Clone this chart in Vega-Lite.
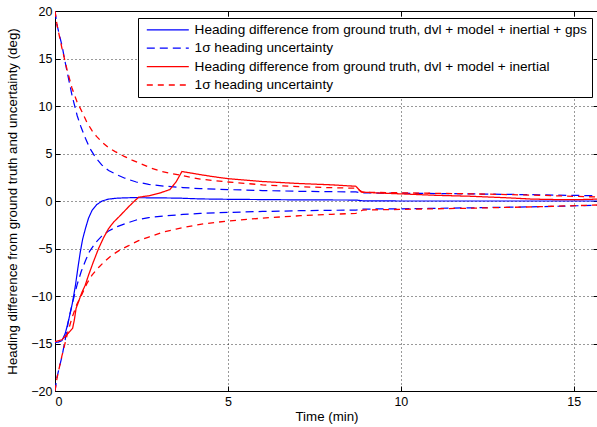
{
  "$schema": "https://vega.github.io/schema/vega-lite/v6.json",
  "width": 543,
  "height": 380,
  "autosize": {"type": "none"},
  "padding": {"left": 55, "top": 11, "right": 0, "bottom": 36},
  "background": "white",
  "config": {
    "font": "Liberation Sans",
    "view": {"stroke": null},
    "axis": {
      "labelFont": "Liberation Sans",
      "labelFontSize": 12.5,
      "labelColor": "black",
      "titleFont": "Liberation Sans",
      "titleFontSize": 13.3,
      "titleFontWeight": "normal",
      "titleColor": "black",
      "domainColor": "black",
      "domainWidth": 1,
      "tickColor": "black",
      "tickSize": -5,
      "tickWidth": 1,
      "labelPadding": 9,
      "gridColor": "black",
      "gridDash": [1, 3],
      "gridOpacity": 0.8,
      "gridWidth": 1
    },
    "legend": {
      "orient": "none",
      "legendX": 83,
      "legendY": 7,
      "strokeColor": "black",
      "fillColor": "white",
      "padding": 5,
      "symbolType": "M-1,0H13",
      "symbolSize": 36,
      "symbolStrokeWidth": 1.1,
      "labelFont": "Liberation Sans",
      "labelFontSize": 13.6,
      "labelColor": "black",
      "labelOffset": 38,
      "rowPadding": 3.4,
      "labelLimit": 600
    }
  },
  "datasets": {
    "curves": [
      {"t":0,"v":-14.9,"s":"A","p":"m"},{"t":0.1,"v":-14.85,"s":"A","p":"m"},{"t":0.2,"v":-14.7,"s":"A","p":"m"},{"t":0.3,"v":-13.9,"s":"A","p":"m"},{"t":0.39,"v":-12.6,"s":"A","p":"m"},{"t":0.5,"v":-10.8,"s":"A","p":"m"},{"t":0.59,"v":-8.9,"s":"A","p":"m"},{"t":0.66,"v":-7.1,"s":"A","p":"m"},{"t":0.73,"v":-5.4,"s":"A","p":"m"},{"t":0.8,"v":-4.0,"s":"A","p":"m"},{"t":0.88,"v":-2.9,"s":"A","p":"m"},{"t":0.97,"v":-1.8,"s":"A","p":"m"},{"t":1.07,"v":-1.0,"s":"A","p":"m"},{"t":1.2,"v":-0.4,"s":"A","p":"m"},{"t":1.36,"v":0.0,"s":"A","p":"m"},{"t":1.55,"v":0.2,"s":"A","p":"m"},{"t":1.8,"v":0.3,"s":"A","p":"m"},{"t":2.2,"v":0.35,"s":"A","p":"m"},{"t":3.0,"v":0.33,"s":"A","p":"m"},{"t":3.6,"v":0.3,"s":"A","p":"m"},{"t":4.2,"v":0.22,"s":"A","p":"m"},{"t":5,"v":0.18,"s":"A","p":"m"},{"t":6,"v":0.15,"s":"A","p":"m"},{"t":7,"v":0.12,"s":"A","p":"m"},{"t":8.7,"v":0.1,"s":"A","p":"m"},{"t":8.9,"v":0.02,"s":"A","p":"m"},{"t":10,"v":0.0,"s":"A","p":"m"},{"t":12,"v":0.0,"s":"A","p":"m"},{"t":14,"v":0.0,"s":"A","p":"m"},{"t":15.7,"v":0.0,"s":"A","p":"m"},

      {"t":0,"v":20,"s":"B","p":"u"},{"t":0.06,"v":18.5,"s":"B","p":"u"},{"t":0.2,"v":16.4,"s":"B","p":"u"},{"t":0.3,"v":14.5,"s":"B","p":"u"},{"t":0.39,"v":12.9,"s":"B","p":"u"},{"t":0.5,"v":11.0,"s":"B","p":"u"},{"t":0.64,"v":9.0,"s":"B","p":"u"},{"t":0.76,"v":7.7,"s":"B","p":"u"},{"t":0.88,"v":6.6,"s":"B","p":"u"},{"t":1.0,"v":5.6,"s":"B","p":"u"},{"t":1.17,"v":4.6,"s":"B","p":"u"},{"t":1.35,"v":3.8,"s":"B","p":"u"},{"t":1.55,"v":3.2,"s":"B","p":"u"},{"t":1.8,"v":2.75,"s":"B","p":"u"},{"t":2.02,"v":2.4,"s":"B","p":"u"},{"t":2.35,"v":2.0,"s":"B","p":"u"},{"t":2.71,"v":1.75,"s":"B","p":"u"},{"t":3.2,"v":1.55,"s":"B","p":"u"},{"t":3.7,"v":1.42,"s":"B","p":"u"},{"t":4.2,"v":1.3,"s":"B","p":"u"},{"t":5,"v":1.2,"s":"B","p":"u"},{"t":6,"v":1.1,"s":"B","p":"u"},{"t":7.1,"v":1.02,"s":"B","p":"u"},{"t":8.0,"v":0.98,"s":"B","p":"u"},{"t":8.7,"v":0.95,"s":"B","p":"u"},{"t":8.9,"v":0.85,"s":"B","p":"u"},{"t":10,"v":0.82,"s":"B","p":"u"},{"t":12,"v":0.75,"s":"B","p":"u"},{"t":14,"v":0.65,"s":"B","p":"u"},{"t":15.7,"v":0.55,"s":"B","p":"u"},

      {"t":0,"v":-20,"s":"B","p":"l"},{"t":0.06,"v":-18.5,"s":"B","p":"l"},{"t":0.2,"v":-16.4,"s":"B","p":"l"},{"t":0.3,"v":-14.5,"s":"B","p":"l"},{"t":0.39,"v":-12.6,"s":"B","p":"l"},{"t":0.5,"v":-10.8,"s":"B","p":"l"},{"t":0.64,"v":-8.8,"s":"B","p":"l"},{"t":0.76,"v":-7.4,"s":"B","p":"l"},{"t":0.88,"v":-6.3,"s":"B","p":"l"},{"t":1.0,"v":-5.3,"s":"B","p":"l"},{"t":1.17,"v":-4.4,"s":"B","p":"l"},{"t":1.35,"v":-3.7,"s":"B","p":"l"},{"t":1.55,"v":-3.15,"s":"B","p":"l"},{"t":1.8,"v":-2.7,"s":"B","p":"l"},{"t":2.02,"v":-2.4,"s":"B","p":"l"},{"t":2.35,"v":-2.0,"s":"B","p":"l"},{"t":2.71,"v":-1.75,"s":"B","p":"l"},{"t":3.2,"v":-1.55,"s":"B","p":"l"},{"t":3.7,"v":-1.42,"s":"B","p":"l"},{"t":4.2,"v":-1.3,"s":"B","p":"l"},{"t":5,"v":-1.2,"s":"B","p":"l"},{"t":6,"v":-1.1,"s":"B","p":"l"},{"t":7.1,"v":-1.02,"s":"B","p":"l"},{"t":8.0,"v":-0.98,"s":"B","p":"l"},{"t":8.7,"v":-0.95,"s":"B","p":"l"},{"t":8.9,"v":-0.85,"s":"B","p":"l"},{"t":10,"v":-0.82,"s":"B","p":"l"},{"t":12,"v":-0.72,"s":"B","p":"l"},{"t":14,"v":-0.6,"s":"B","p":"l"},{"t":15.7,"v":-0.45,"s":"B","p":"l"},

      {"t":0,"v":-14.8,"s":"C","p":"m"},{"t":0.2,"v":-14.6,"s":"C","p":"m"},{"t":0.39,"v":-13.9,"s":"C","p":"m"},{"t":0.51,"v":-13.4,"s":"C","p":"m"},{"t":0.56,"v":-12.5,"s":"C","p":"m"},{"t":0.61,"v":-11.3,"s":"C","p":"m"},{"t":0.7,"v":-10.4,"s":"C","p":"m"},{"t":0.78,"v":-9.6,"s":"C","p":"m"},{"t":0.87,"v":-8.9,"s":"C","p":"m"},{"t":0.97,"v":-7.8,"s":"C","p":"m"},{"t":1.1,"v":-6.5,"s":"C","p":"m"},{"t":1.26,"v":-5.0,"s":"C","p":"m"},{"t":1.4,"v":-3.9,"s":"C","p":"m"},{"t":1.55,"v":-2.9,"s":"C","p":"m"},{"t":1.7,"v":-2.2,"s":"C","p":"m"},{"t":1.84,"v":-1.7,"s":"C","p":"m"},{"t":2.0,"v":-1.1,"s":"C","p":"m"},{"t":2.13,"v":-0.6,"s":"C","p":"m"},{"t":2.3,"v":0.0,"s":"C","p":"m"},{"t":2.42,"v":0.4,"s":"C","p":"m"},{"t":2.71,"v":0.55,"s":"C","p":"m"},{"t":3.0,"v":0.8,"s":"C","p":"m"},{"t":3.32,"v":1.2,"s":"C","p":"m"},{"t":3.5,"v":2.0,"s":"C","p":"m"},{"t":3.67,"v":3.1,"s":"C","p":"m"},{"t":4.0,"v":2.9,"s":"C","p":"m"},{"t":4.5,"v":2.6,"s":"C","p":"m"},{"t":5,"v":2.35,"s":"C","p":"m"},{"t":6,"v":2.05,"s":"C","p":"m"},{"t":7,"v":1.85,"s":"C","p":"m"},{"t":8,"v":1.7,"s":"C","p":"m"},{"t":8.7,"v":1.55,"s":"C","p":"m"},{"t":8.85,"v":0.95,"s":"C","p":"m"},{"t":9.3,"v":0.85,"s":"C","p":"m"},{"t":10,"v":0.75,"s":"C","p":"m"},{"t":11,"v":0.6,"s":"C","p":"m"},{"t":12,"v":0.5,"s":"C","p":"m"},{"t":13,"v":0.35,"s":"C","p":"m"},{"t":13.8,"v":0.2,"s":"C","p":"m"},{"t":14.5,"v":0.15,"s":"C","p":"m"},{"t":15.2,"v":0.15,"s":"C","p":"m"},{"t":15.7,"v":0.2,"s":"C","p":"m"},

      {"t":0,"v":20,"s":"D","p":"u"},{"t":0.06,"v":18.5,"s":"D","p":"u"},{"t":0.2,"v":16.1,"s":"D","p":"u"},{"t":0.35,"v":13.8,"s":"D","p":"u"},{"t":0.49,"v":11.9,"s":"D","p":"u"},{"t":0.63,"v":10.5,"s":"D","p":"u"},{"t":0.78,"v":9.4,"s":"D","p":"u"},{"t":0.92,"v":8.3,"s":"D","p":"u"},{"t":1.07,"v":7.4,"s":"D","p":"u"},{"t":1.2,"v":6.8,"s":"D","p":"u"},{"t":1.36,"v":6.2,"s":"D","p":"u"},{"t":1.55,"v":5.6,"s":"D","p":"u"},{"t":1.74,"v":5.2,"s":"D","p":"u"},{"t":2.0,"v":4.7,"s":"D","p":"u"},{"t":2.23,"v":4.3,"s":"D","p":"u"},{"t":2.5,"v":3.9,"s":"D","p":"u"},{"t":2.75,"v":3.5,"s":"D","p":"u"},{"t":3.1,"v":3.1,"s":"D","p":"u"},{"t":3.5,"v":2.8,"s":"D","p":"u"},{"t":4.2,"v":2.3,"s":"D","p":"u"},{"t":5,"v":2.0,"s":"D","p":"u"},{"t":6,"v":1.7,"s":"D","p":"u"},{"t":7.1,"v":1.5,"s":"D","p":"u"},{"t":8,"v":1.4,"s":"D","p":"u"},{"t":8.7,"v":1.35,"s":"D","p":"u"},{"t":8.9,"v":0.92,"s":"D","p":"u"},{"t":10,"v":0.86,"s":"D","p":"u"},{"t":12,"v":0.76,"s":"D","p":"u"},{"t":14,"v":0.6,"s":"D","p":"u"},{"t":15.7,"v":0.42,"s":"D","p":"u"},

      {"t":0,"v":-20,"s":"D","p":"l"},{"t":0.06,"v":-18.6,"s":"D","p":"l"},{"t":0.2,"v":-16.3,"s":"D","p":"l"},{"t":0.35,"v":-14.1,"s":"D","p":"l"},{"t":0.49,"v":-12.3,"s":"D","p":"l"},{"t":0.63,"v":-10.9,"s":"D","p":"l"},{"t":0.78,"v":-9.8,"s":"D","p":"l"},{"t":0.92,"v":-8.7,"s":"D","p":"l"},{"t":1.07,"v":-7.8,"s":"D","p":"l"},{"t":1.26,"v":-7.0,"s":"D","p":"l"},{"t":1.45,"v":-6.3,"s":"D","p":"l"},{"t":1.65,"v":-5.7,"s":"D","p":"l"},{"t":1.9,"v":-5.1,"s":"D","p":"l"},{"t":2.13,"v":-4.7,"s":"D","p":"l"},{"t":2.4,"v":-4.2,"s":"D","p":"l"},{"t":2.71,"v":-3.8,"s":"D","p":"l"},{"t":3.1,"v":-3.3,"s":"D","p":"l"},{"t":3.5,"v":-2.95,"s":"D","p":"l"},{"t":4.2,"v":-2.45,"s":"D","p":"l"},{"t":5,"v":-2.1,"s":"D","p":"l"},{"t":6,"v":-1.8,"s":"D","p":"l"},{"t":7.1,"v":-1.55,"s":"D","p":"l"},{"t":8,"v":-1.4,"s":"D","p":"l"},{"t":8.7,"v":-1.3,"s":"D","p":"l"},{"t":8.9,"v":-0.95,"s":"D","p":"l"},{"t":10,"v":-0.88,"s":"D","p":"l"},{"t":12,"v":-0.76,"s":"D","p":"l"},{"t":14,"v":-0.6,"s":"D","p":"l"},{"t":15.7,"v":-0.42,"s":"D","p":"l"}
    ],
    "frame": [{"t": 0, "v": -20}, {"t": 15.7, "v": 20}]
  },
  "layer": [
    {
      "data": {"name": "curves"},
      "mark": {"type": "line", "clip": true},
      "encoding": {
        "x": {
          "field": "t", "type": "quantitative",
          "scale": {"domain": [0, 15.7], "nice": false, "zero": false},
          "axis": {"title": "Time (min)", "values": [0, 5, 10, 15], "grid": true, "titleBaseline": "middle", "titleY": 25}
        },
        "y": {
          "field": "v", "type": "quantitative",
          "scale": {"domain": [-20, 20], "nice": false},
          "axis": {"title": "Heading difference from ground truth and uncertainty (deg)", "values": [-20, -15, -10, -5, 0, 5, 10, 15, 20], "grid": true, "labelPadding": 8, "titleX": -43, "titleBaseline": "middle", "titleAlign": "center", "titleY": 190}
        },
        "color": {
          "field": "s", "type": "nominal",
          "scale": {"domain": ["A", "B", "C", "D"], "range": ["#0000ff", "#0000ff", "#ff0000", "#ff0000"]},
          "legend": {
            "title": null,
            "labelExpr": "datum.value == 'A' ? 'Heading difference from ground truth, dvl + model + inertial + gps' : datum.value == 'C' ? 'Heading difference from ground truth, dvl + model + inertial' : '1σ heading uncertainty'"
          }
        },
        "strokeDash": {
          "field": "s", "type": "nominal",
          "scale": {"domain": ["A", "B", "C", "D"], "range": [[1, 0], [8, 5], [1, 0], [6, 5]]},
          "legend": {
            "title": null,
            "labelExpr": "datum.value == 'A' ? 'Heading difference from ground truth, dvl + model + inertial + gps' : datum.value == 'C' ? 'Heading difference from ground truth, dvl + model + inertial' : '1σ heading uncertainty'"
          }
        },
        "strokeWidth": {
          "field": "s", "type": "nominal",
          "scale": {"domain": ["A", "B", "C", "D"], "range": [1.2, 1.3, 1.7, 1.1]},
          "legend": null
        },
        "detail": {"field": "p", "type": "nominal"}
      }
    },
    {
      "data": {"name": "frame"},
      "mark": {"type": "point", "opacity": 0},
      "encoding": {
        "x": {
          "field": "t", "type": "quantitative",
          "scale": {"domain": [0, 15.7], "nice": false, "zero": false},
          "axis": {"orient": "top", "title": null, "labels": false, "grid": false, "values": [0, 5, 10, 15]}
        },
        "y": {
          "field": "v", "type": "quantitative",
          "scale": {"domain": [-20, 20], "nice": false},
          "axis": {"orient": "right", "title": null, "labels": false, "grid": false, "values": [-20, -15, -10, -5, 0, 5, 10, 15, 20]}
        }
      }
    }
  ],
  "resolve": {"axis": {"x": "independent", "y": "independent"}}
}
